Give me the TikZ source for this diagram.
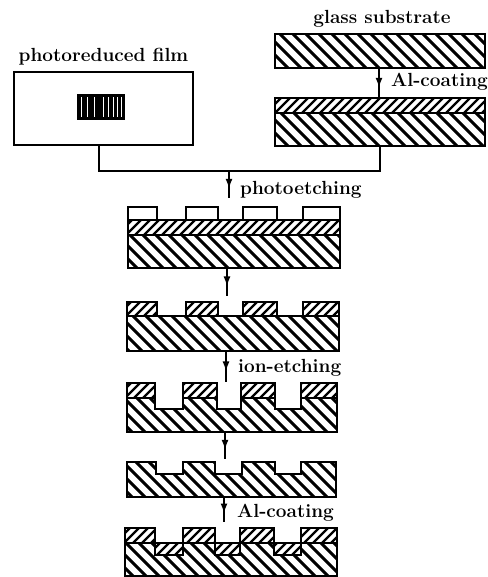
\documentclass[tikz,border=0pt]{standalone}
\usepackage{tikz}
\usetikzlibrary{arrows.meta,positioning,decorations.markings}
% clip the hatching to a closed outline, then ink the outline
\newcommand{\subst}[1]{%
  \begin{scope}\clip #1;
  \foreach \i in {-560,-547,...,480}{\draw[hatchline] (\i,0) -- ({\i+580},580);}
  \end{scope}
  \draw[outline] #1;}
\newcommand{\coat}[1]{%
  \begin{scope}\clip #1;
  \foreach \i in {100,109,...,1080}{\draw[hatchfine] (\i,0) -- ({\i-580},580);}
  \end{scope}
  \draw[outline] #1;}
\begin{document}
\begin{tikzpicture}[
  x=1pt,y=-1pt,
  outline/.style={draw,line width=1.8pt,line join=miter},
  hatchline/.style={line width=3.0pt},
  hatchfine/.style={line width=2.4pt},
  tag/.style={font=\fontsize{19}{22}\selectfont\bfseries,inner sep=0pt},
  flow/.style={line width=1.7pt,postaction={decorate},
    decoration={markings,mark=at position .66 with {\arrow{Latex[length=10pt,width=7pt]}}}},
  wire/.style={line width=1.7pt}
]
\useasboundingbox (0,0) rectangle (487,577);

% film with its grating
\node[draw,line width=1.8pt,minimum width=179pt,minimum height=73pt,inner sep=0pt] (film) at (103.5,108.5) {};
\node[fill=black,minimum width=48pt,minimum height=26pt,inner sep=0pt] (grating) at (101,107) {};
\foreach \i in {81.5,87,94,103,108,113,117,121}{\draw[white,line width=0.7pt] (\i,97) -- (\i,117);}
\node[tag,above=6pt of film] (filmtag) {photoreduced film};

% glass, then coated glass
\subst{(275,34) rectangle (485,68)}
\coordinate (glassout) at (379,68);
\node[tag] (glasstag) at (382,19) {glass substrate};
\coat{(275,98) rectangle (485,113)}
\subst{(275,113) rectangle (485,146)}
\coordinate (coatin) at (379,98);
\coordinate (coatout) at (380,146);
\draw[flow] (glassout) -- (coatin);
\node[tag,anchor=west] (coattag) at (391,82) {Al-coating};

% joining line
\coordinate (filmout) at (99,145);
\coordinate (join) at (229,171);
\draw[wire] (filmout) |- (join) -| (coatout);

% resist on the coated glass
\foreach \a/\b in {128/157,186/218,243/277,303/340}{\draw[outline] (\a,220) |- (\b,207) -- (\b,220);}
\coat{(128,220) rectangle (340,235)}
\subst{(128,235) rectangle (340,268)}
\coordinate (resistin) at (229,198);
\coordinate (resistout) at (227,268);
\draw[flow] (join) -- (resistin);
\node[tag,anchor=west] (phototag) at (240,190) {photoetching};

% opened coating
\foreach \a/\b in {127/157,186/218,243/277,303/339}{\coat{(\a,302) rectangle (\b,316)}}
\subst{(127,316) rectangle (339,351)}
\coordinate (openin) at (227,296);
\coordinate (openout) at (226,351);
\draw[flow] (resistout) -- (openin);

% ion-etched trenches
\foreach \a/\b in {127/155,183/217,241/275,301/337}{\coat{(\a,383) rectangle (\b,398)}}
\subst{(127,398) -- (155,398) -- (155,409) -- (183,409) -- (183,398) -- (217,398) -- (217,409) -- (241,409) -- (241,398) -- (275,398) -- (275,409) -- (301,409) -- (301,398) -- (337,398) -- (337,432) -- (127,432) -- cycle}
\coordinate (ionin) at (226,382);
\coordinate (ionout) at (225,432);
\draw[flow] (openout) -- (ionin);
\node[tag,anchor=west] (iontag) at (238,368) {ion-etching};

% stripped
\subst{(127,462) -- (156,462) -- (156,474) -- (183,474) -- (183,462) -- (215,462) -- (215,474) -- (242,474) -- (242,462) -- (275,462) -- (275,474) -- (301,474) -- (301,462) -- (336,462) -- (336,497) -- (127,497) -- cycle}
\coordinate (stripin) at (225,459);
\coordinate (stripout) at (224,497);
\draw[flow] (ionout) -- (stripin);

% final coating
\foreach \a/\b in {125/155,183/215,240/274,301/337}{\coat{(\a,528) rectangle (\b,543)}}
\foreach \a/\b in {155/183,215/240,274/301}{\coat{(\a,543) rectangle (\b,555)}}
\subst{(125,543) -- (155,543) -- (155,555) -- (183,555) -- (183,543) -- (215,543) -- (215,555) -- (240,555) -- (240,543) -- (274,543) -- (274,555) -- (301,555) -- (301,543) -- (337,543) -- (337,576) -- (125,576) -- cycle}
\coordinate (finalin) at (224,522);
\draw[flow] (stripout) -- (finalin);
\node[tag,anchor=west] (finaltag) at (237,513) {Al-coating};
\end{tikzpicture}
\end{document}
